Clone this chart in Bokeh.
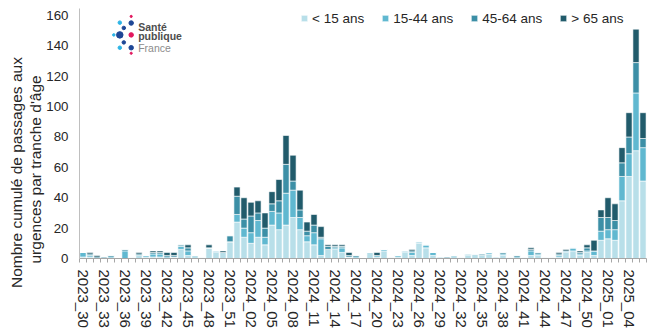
from bokeh.plotting import figure
from bokeh.models import (ColumnDataSource, Range1d, FixedTicker, Legend, LegendItem,
                          Label, Title)
from bokeh.embed import file_html
from bokeh.resources import INLINE

# ---- data ----
weeks = ([f"2023_{w:02d}" for w in range(30, 53)] +
         [f"2024_{w:02d}" for w in range(1, 53)] +
         [f"2025_{w:02d}" for w in range(1, 7)])

age_groups = ["< 15 ans", "15-44 ans", "45-64 ans", "> 65 ans"]

lt15 = [1, 1, 0, 0, 0, 0, 0, 1, 2, 1, 1, 1, 0, 1, 6, 2, 2, 1, 7, 4,
        4, 11, 24, 14, 10, 14, 9, 22, 19, 22, 27, 19, 11, 9, 2, 6, 6, 4, 1, 0,
        0, 4, 1, 5, 1, 1, 4, 2, 10, 7, 2, 0, 0, 2, 1, 2, 3, 2, 3, 0,
        2, 1, 0, 1, 2, 2, 1, 1, 1, 4, 5, 2, 4, 2, 12, 13, 12, 38, 54, 71,
        51]
a15_44 = [3, 1, 0, 0, 1, 0, 5, 0, 0, 1, 2, 2, 1, 0, 2, 3, 0, 0, 0, 1,
          0, 0, 5, 6, 7, 11, 5, 9, 11, 21, 18, 8, 4, 8, 11, 0, 1, 3, 0, 1,
          0, 0, 1, 1, 0, 1, 1, 2, 1, 2, 2, 1, 0, 0, 0, 1, 0, 0, 1, 1,
          1, 0, 1, 0, 3, 1, 0, 0, 1, 1, 2, 1, 1, 3, 6, 6, 7, 16, 15, 38,
          22]
a45_64 = [0, 1, 1, 1, 1, 0, 1, 0, 1, 0, 1, 1, 1, 1, 1, 2, 0, 0, 0, 0,
          0, 4, 12, 6, 11, 5, 6, 5, 8, 19, 6, 5, 3, 5, 1, 2, 1, 1, 1, 1,
          0, 0, 0, 0, 0, 0, 0, 1, 0, 0, 0, 0, 1, 0, 0, 0, 0, 1, 0, 0,
          1, 0, 1, 0, 1, 1, 0, 0, 1, 0, 0, 1, 2, 0, 9, 8, 6, 9, 11, 20,
          6]
gt65 = [0, 1, 1, 0, 0, 0, 0, 0, 1, 0, 1, 1, 2, 2, 0, 2, 0, 0, 2, 0,
        1, 0, 6, 14, 9, 8, 10, 8, 14, 19, 17, 13, 6, 7, 7, 1, 1, 1, 2, 0,
        0, 0, 2, 0, 0, 0, 0, 1, 0, 0, 0, 0, 0, 0, 0, 0, 0, 0, 0, 0,
        0, 0, 0, 0, 1, 0, 0, 0, 1, 1, 0, 1, 2, 7, 5, 13, 11, 10, 16, 22,
        17]

y_title = ["Nombre cumulé de passages aux", "urgences par tranche d'âge"]

colors = ["#b8dfe9", "#60b8d0", "#3c8fa6", "#215b6b"]
FONT = "Liberation Sans"
TXT = "#262626"

n = len(weeks)
src = ColumnDataSource(dict(x=list(range(n)), lt15=lt15, a15_44=a15_44,
                            a45_64=a45_64, gt65=gt65))

# frame: top at 8px, bottom at 261px; value 160 sits at 15px
p = figure(width=656, height=330, output_backend="svg", toolbar_location=None,
           x_range=Range1d(-0.5, n - 0.5), y_range=Range1d(0, 164.6),
           min_border_left=79, min_border_right=10, min_border_top=8,
           min_border_bottom=69)
p.outline_line_color = None
p.grid.visible = False
p.background_fill_color = "white"
p.border_fill_color = "white"

rs = p.vbar_stack(["lt15", "a15_44", "a45_64", "gt65"], x="x", width=0.88,
                  color=colors, line_color="white", line_width=0.6, source=src)

# x axis
xa = p.xaxis[0]
xa.ticker = FixedTicker(ticks=list(range(0, n, 3)),
                        minor_ticks=[i - 0.5 for i in range(n + 1)])
xa.major_label_overrides = {i: weeks[i] for i in range(0, n, 3)}
xa.major_label_orientation = "vertical"
xa.major_tick_line_color = None
xa.major_tick_out = 0
xa.major_tick_in = 0
xa.minor_tick_out = 4
xa.minor_tick_in = 0
xa.minor_tick_line_color = "#a6a6a6"
xa.axis_line_color = "#a6a6a6"
xa.major_label_standoff = 7
xa.major_label_text_font = FONT
xa.major_label_text_font_size = "15px"
xa.major_label_text_color = TXT

# y axis
ya = p.yaxis[0]
ya.ticker = FixedTicker(ticks=list(range(0, 161, 20)))
ya.major_tick_out = 0
ya.major_tick_in = 0
ya.minor_tick_line_color = None
ya.axis_line_color = "#bfbfbf"
ya.major_label_standoff = 11
ya.major_label_text_font = FONT
ya.major_label_text_font_size = "13.3px"
ya.major_label_text_color = TXT

# y axis title (two lines, as left-side titles; inner line added first)
for txt, off in [(y_title[1], -5), (y_title[0], -29.5)]:
    p.add_layout(Title(text=txt, align="left", offset=off, standoff=0,
                       text_font=FONT, text_font_size="15.5px",
                       text_line_height=1.0,
                       text_font_style="normal", text_color=TXT), "left")

# legend
legend = Legend(items=[LegendItem(label=g, renderers=[r]) for g, r in zip(age_groups, rs)],
                orientation="horizontal", location=(221, 232),
                background_fill_alpha=0, border_line_color=None, padding=0,
                spacing=17, glyph_width=8, glyph_height=8, label_standoff=4,
                label_height=16, margin=0,
                label_text_font=FONT, label_text_font_size="13.5px",
                label_text_color=TXT)
p.add_layout(legend)

# logo (Santé publique France) - decoration in pixel-like extra ranges
p.extra_x_ranges = {"logo": Range1d(0, 567)}
p.extra_y_ranges = {"logo": Range1d(0, 253)}
logo_x = [40.3, 51.7, 51.7, 44.3, 34.3, 40.3, 51.7, 44.3, 40.3, 51.7, 51.7]
logo_y = [238.7, 238.3, 245.0, 233.3, 226.3, 226.3, 226.3, 218.7, 213.3, 213.3, 207.7]
logo_s = [3.5, 4.5, 2.2, 3.5, 2.5, 6.5, 4.5, 3.5, 3.5, 4.5, 2.2]
logo_c = ["#2cb4e6", "#1e4796", "#e3175e", "#1e4796", "#2cb4e6", "#1e4796",
          "#e3175e", "#1e4796", "#2cb4e6", "#1e4796", "#e3175e"]
p.scatter(logo_x, logo_y, size=logo_s, color=logo_c,
          x_range_name="logo", y_range_name="logo")
for txt, yy, col, st in [("Santé", 232, "#4d4d4d", "bold"),
                         ("publique", 222.7, "#4d4d4d", "bold"),
                         ("France", 211, "#8c8c8c", "normal")]:
    p.add_layout(Label(x=58.7, y=yy, x_units="screen", y_units="screen", text=txt,
                       text_font=FONT, text_font_size="10.5px", text_font_style=st,
                       text_color=col, text_baseline="alphabetic"))

open("out.html", "w").write(file_html(p, INLINE))
